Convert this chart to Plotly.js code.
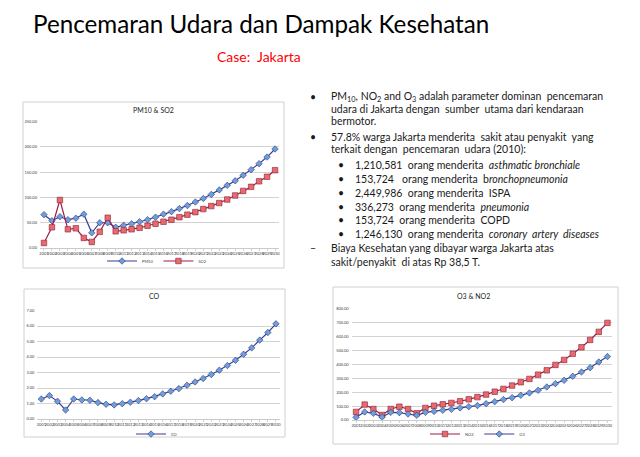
<!DOCTYPE html>
<html>
<head>
<meta charset="utf-8">
<script src="https://cdn.plot.ly/plotly-3.0.1.min.js"></script>
<style>html,body{margin:0;padding:0;background:#fff;}#chart{width:640px;height:457px;}</style>
</head>
<body>
<div id="chart"></div>
<script>
// ---- data ----
const years = ["2001","2002","2003","2004","2005","2006","2007","2008","2009","2010",
  "2011","2012","2013","2014","2015","2016","2017","2018","2019","2020",
  "2021","2022","2023","2024","2025","2026","2027","2028","2029","2030"];
const pm10 = [66,54,62,56,59,67,30,50,50,41,45,48,52,56,61,67,72,78,84,91,98,106,115,124,133,144,155,167,180,196];
const so2  = [10,41,95,37,39,20,12,32,60,33,35,37,40,44,48,52,56,61,66,71,77,83,89,96,104,113,121,132,141,154];
const co   = [1.29,1.51,1.14,0.58,1.29,1.23,1.21,1.06,0.95,0.91,0.99,1.08,1.19,1.31,1.44,1.62,1.79,1.96,2.18,2.39,2.61,2.87,3.15,3.45,3.79,4.18,4.59,5.09,5.58,6.14];
const no2  = [58,111,79,36,79,96,79,48,87,103,113,123,135,149,165,183,204,224,248,272,296,327,358,397,433,478,524,577,635,700];
const o3   = [19,58,48,22,55,53,43,34,55,62,70,77,87,96,104,118,132,147,161,178,195,214,238,262,286,315,346,377,418,457];

const slideTitle = "Pencemaran Udara dan Dampak Kesehatan";
const slideSub = "Case:  Jakarta";
const chartTitles = ["PM10 &amp; SO2", "CO", "O3 &amp; NO2"];

const W = 640, H = 457;
const px = v => v / W;
const py = v => 1 - v / H;

const blueLine = '#3b3f93', blueMark = '#6e9de0';
const redLine = '#9c1c4c', redMark = '#e86a70';

function blueTrace(name, y, xa, ya, lg) {
  return {x: years, y: y, name: name, xaxis: xa, yaxis: ya, legend: lg, type: 'scatter', mode: 'lines+markers',
    line: {color: blueLine, width: 1.2},
    marker: {symbol: 'diamond', size: 5, color: blueMark, line: {color: '#1d2450', width: 0.5}}};
}
function redTrace(name, y, xa, ya, lg) {
  return {x: years, y: y, name: name, xaxis: xa, yaxis: ya, legend: lg, type: 'scatter', mode: 'lines+markers',
    line: {color: redLine, width: 1.2},
    marker: {symbol: 'square', size: 5.5, color: redMark, line: {color: '#8a2030', width: 0.6}}};
}

const data = [
  blueTrace('PM10', pm10, 'x', 'y', 'legend'),
  redTrace('SO2', so2, 'x', 'y', 'legend'),
  blueTrace('CO', co, 'x2', 'y2', 'legend2'),
  redTrace('NO2', no2, 'x3', 'y3', 'legend3'),
  blueTrace('O3', o3, 'x3', 'y3', 'legend3')
];

const tickF = {family: 'Lato, Arial, sans-serif', size: 4, color: '#404040'};
function xax(d0, d1, anchor) {
  return {domain: [px(d0), px(d1)], anchor: anchor, type: 'category', range: [-0.5, 29.5],
    tickfont: tickF, tickangle: 0, showgrid: false, showline: true, linecolor: '#a6a6a6', linewidth: 0.6,
    ticks: 'outside', ticklen: 2, tickcolor: '#a6a6a6', tickwidth: 0.5, zeroline: false, fixedrange: true};
}
function yax(top, bot, range, dtick, anchor) {
  return {domain: [py(bot), py(top)], anchor: anchor, range: range, dtick: dtick, tickformat: '.2f',
    tickfont: tickF, showgrid: true, gridcolor: '#c8c8c8', gridwidth: 0.8, zeroline: false,
    showline: false, ticks: '', ticklabelstandoff: 2, fixedrange: true};
}

const boxes = [[23,102,284,268],[24,289,285,437],[333,287,618,444]];
const shapes = boxes.map(b => ({type: 'rect', xref: 'paper', yref: 'paper', layer: 'below',
  x0: px(b[0]), x1: px(b[2]), y0: py(b[3]), y1: py(b[1]),
  line: {color: '#d0d0d0', width: 1}, fillcolor: '#ffffff'}));

const bodyF = {family: 'Lato, Arial, sans-serif', size: 10.5, color: '#1a1a1a'};
function txt(x, y, t, f) {
  return {xref: 'paper', yref: 'paper', x: px(x), y: py(y), xanchor: 'left', yanchor: 'middle',
    text: t, showarrow: false, font: f || bodyF, align: 'left'};
}
const annotations = [
  {xref: 'paper', yref: 'paper', x: px(261), y: py(23), xanchor: 'center', yanchor: 'middle', showarrow: false,
   text: slideTitle, font: {family: 'Lato, Arial, sans-serif', size: 24.2, color: '#000'}},
  {xref: 'paper', yref: 'paper', x: px(259), y: py(56), xanchor: 'center', yanchor: 'middle', showarrow: false,
   text: slideSub, font: {family: 'Lato, Arial, sans-serif', size: 14, color: '#ff0000'}},
  {xref: 'paper', yref: 'paper', x: px(153), y: py(110), xanchor: 'center', yanchor: 'middle', showarrow: false,
   text: chartTitles[0], font: {family: 'Lato, Arial, sans-serif', size: 7, color: '#222'}},
  {xref: 'paper', yref: 'paper', x: px(154), y: py(296), xanchor: 'center', yanchor: 'middle', showarrow: false,
   text: chartTitles[1], font: {family: 'Lato, Arial, sans-serif', size: 7, color: '#222'}},
  {xref: 'paper', yref: 'paper', x: px(473), y: py(296), xanchor: 'center', yanchor: 'middle', showarrow: false,
   text: chartTitles[2], font: {family: 'Lato, Arial, sans-serif', size: 7, color: '#222'}},
  // bullets
  txt(308, 97, '•'), txt(329, 97, 'PM<sub>10</sub>, NO<sub>2</sub> and O<sub>3</sub> adalah parameter dominan  pencemaran'),
  txt(329, 109, 'udara di Jakarta dengan  sumber  utama dari kendaraan'),
  txt(329, 121, 'bermotor.'),
  txt(308, 137, '•'), txt(329, 137, '57.8% warga Jakarta menderita  sakit atau penyakit  yang'),
  txt(329, 149, 'terkait dengan  pencemaran  udara (2010):'),
  txt(336, 165, '•'), txt(353, 165, '1,210,581  orang menderita  <i>asthmatic bronchiale</i>'),
  txt(336, 179, '•'), txt(353, 179, '153,724   orang menderita  b<i>ronchopneumonia</i>'),
  txt(336, 193, '•'), txt(353, 193, '2,449,986  orang menderita  ISPA'),
  txt(336, 207, '•'), txt(353, 207, '336,273  orang menderita  <i>pneumonia</i>'),
  txt(336, 220, '•'), txt(353, 220, '153,724  orang menderita  COPD'),
  txt(336, 234, '•'), txt(353, 234, '1,246,130  orang menderita  <i>coronary  artery  diseases</i>'),
  txt(308, 248, '–'), txt(329, 248, 'Biaya Kesehatan yang dibayar warga Jakarta atas'),
  txt(329, 262, 'sakit/penyakit  di atas Rp 38,5 T.')
];

const legF = {family: 'Lato, Arial, sans-serif', size: 4, color: '#404040'};
function leg(x, y) {
  return {x: px(x), y: py(y), xanchor: 'center', yanchor: 'middle', orientation: 'h', font: legF,
    bgcolor: 'rgba(0,0,0,0)', itemwidth: 30, tracegroupgap: 0};
}

const layout = {
  width: W, height: H, margin: {l: 0, r: 0, t: 0, b: 0}, paper_bgcolor: '#fff', plot_bgcolor: 'rgba(0,0,0,0)',
  font: {family: 'Lato, Arial, sans-serif'},
  xaxis: xax(40, 279, 'y'), yaxis: yax(121.7, 248, [0, 250], 50, 'x'),
  xaxis2: xax(37.3, 280, 'y2'), yaxis2: yax(310.5, 419, [0, 7], 1, 'x2'),
  xaxis3: xax(351.7, 611.8, 'y3'), yaxis3: yax(309, 420, [0, 800], 100, 'x3'),
  legend: leg(157, 261), legend2: leg(157, 434), legend3: leg(478, 434),
  shapes: shapes, annotations: annotations, showlegend: true
};

Plotly.newPlot('chart', data, layout, {staticPlot: true, displayModeBar: false});
</script>
</body>
</html>
